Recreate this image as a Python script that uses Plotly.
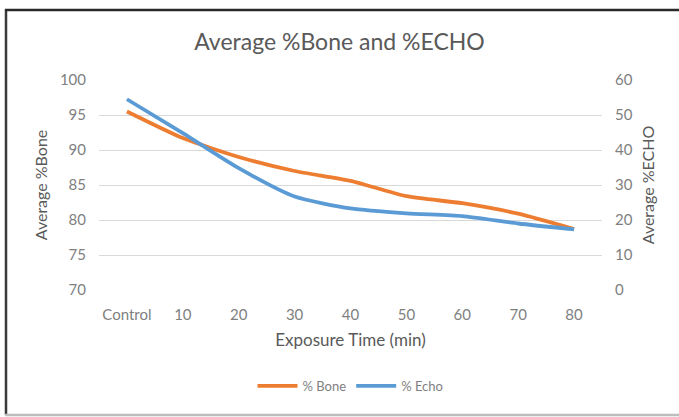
import plotly.graph_objects as go

# exposure categories and the two averaged series
categories = ['Control', '10', '20', '30', '40', '50', '60', '70', '80']
bone_pct = [95.5, 91.7, 89.0, 87.0, 85.6, 83.4, 82.4, 80.9, 78.7]
echo_pct = [54.5, 44.8, 34.8, 26.7, 23.3, 21.9, 21.1, 19.0, 17.3]

left_ticks = [70, 75, 80, 85, 90, 95, 100]
right_ticks = [0, 10, 20, 30, 40, 50, 60]

ORANGE = '#ED7D31'
BLUE = '#5B9BD5'
FONT = 'Lato, Open Sans, sans-serif'

fig = go.Figure()
fig.add_trace(go.Scatter(x=categories, y=bone_pct, name='% Bone', mode='lines',
                         line=dict(color=ORANGE, width=3.8, shape='spline', smoothing=0.6)))
fig.add_trace(go.Scatter(x=categories, y=echo_pct, name='% Echo', mode='lines', yaxis='y2',
                         line=dict(color=BLUE, width=3.8, shape='spline', smoothing=0.6)))

W, H = 679, 417
L, R, T, B = 99, 77, 80, 127
pw, ph = W - L - R, H - T - B


def px(x):
    return (x - L) / pw


def py(y):
    return (H - B - y) / ph


# frame around the chart (dark left/top, light bottom)
frame = [
    (6, 6, 9, 415, '#3a3a3a'),
    (5, 679, 10, 10, '#2a2a2a'),
    (5, 679, 415, 415, '#bdbdbd'),
]
for x0, x1, y0, y1, col in frame:
    fig.add_shape(type='line', xref='paper', yref='paper', layer='above',
                  x0=px(x0), x1=px(x1), y0=py(y0), y1=py(y1),
                  line=dict(color=col, width=2.5))

fig.update_layout(
    width=W, height=H,
    margin=dict(l=L, r=R, t=T, b=B),
    paper_bgcolor='white', plot_bgcolor='white',
    font=dict(family=FONT, color='#7f7f7f', size=15),
    title=dict(text='Average %Bone and %ECHO', x=0.5, xanchor='center', y=1 - 42 / H, yanchor='middle',
               font=dict(size=23, color='#595959', family=FONT)),
    xaxis=dict(type='category', range=[-0.5, len(categories) - 0.5], showgrid=False, zeroline=False,
               showline=False, ticks='', ticklabelstandoff=14,
               title=dict(text='Exposure Time (min)', font=dict(size=17, color='#595959'), standoff=12),
               tickfont=dict(size=15, color='#7f7f7f')),
    yaxis=dict(range=[70, 100], tickvals=left_ticks, gridcolor='#d9d9d9', gridwidth=1,
               zeroline=False, showline=False, ticks='', ticklabelstandoff=12,
               tickfont=dict(size=15, color='#7f7f7f'),
               title=dict(text='Average %Bone', font=dict(size=16, color='#595959'), standoff=8)),
    yaxis2=dict(range=[0, 60], tickvals=right_ticks, overlaying='y', side='right', showgrid=False,
                zeroline=False, showline=False, ticks='', ticklabelstandoff=12,
                tickfont=dict(size=15, color='#7f7f7f'),
                title=dict(text='Average %ECHO', font=dict(size=16, color='#595959'), standoff=11)),
    legend=dict(orientation='h', x=0.5, xanchor='center', y=py(386), yanchor='middle',
                font=dict(size=13, color='#7f7f7f'), itemwidth=40, tracegroupgap=0),
    showlegend=True,
)

# drop the page's default body margin so the figure sits at the window's corner
fig.write_html('out.html', config={'displayModeBar': False},
               post_script="document.body.style.margin='0';")
